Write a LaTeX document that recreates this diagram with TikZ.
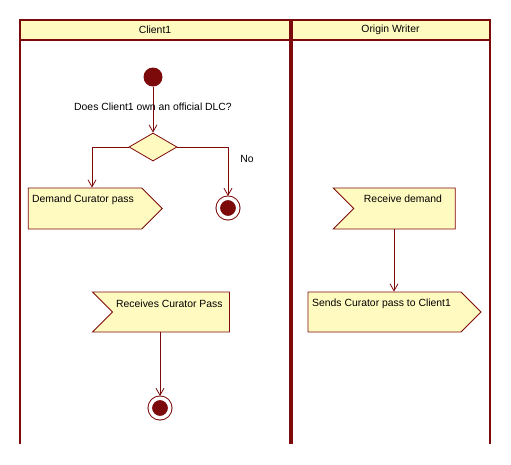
\documentclass[tikz,border=0pt]{standalone}
\usepackage{fontspec}
\setmainfont{Liberation Sans}
\usetikzlibrary{shapes.geometric, shapes.symbols, arrows.meta}
\definecolor{umlred}{HTML}{7D0A0A}
\definecolor{umlfill}{HTML}{FFFAC0}

\begin{document}
\begin{tikzpicture}[
            x=1pt, y=-1pt,
            lane/.style={draw=umlred, line width=2pt},
            flow/.style={draw=umlred, line width=.8pt, -{Straight Barb[length=7pt, width=8pt]}},
            start/.style={circle, fill=umlred, minimum size=19pt, inner sep=0pt},
            final/.style={circle, draw=umlred, fill=umlred, line width=1pt, double=white,
                double distance=3.5pt, minimum size=19.5pt, inner sep=0pt, outer sep=2.25pt},
            choice/.style={diamond, draw=umlred, fill=umlfill, line width=.8pt,
                minimum width=48pt, minimum height=28pt, inner sep=0pt},
            sendbox/.style={signal, signal to=east, signal pointer angle=90, draw=umlred,
                fill=umlfill, line width=.8pt, inner sep=0pt},
            recvbox/.style={signal, signal to=nowhere, signal from=west, signal pointer angle=90,
                draw=umlred, fill=umlfill, line width=.8pt, inner sep=0pt},
            txt/.style={inner sep=0pt},
            font={\fontsize{10.4pt}{12pt}\selectfont}
        ]
        \useasboundingbox (0,0) rectangle (511,464);
        % Swimlanes
        \fill[umlfill] (20,20) rectangle (490,40);
        \draw[lane] (20,444) -- (20,20) -- (490,20) -- (490,444);
        \draw[lane] (20,40) -- (490,40);
        \draw[draw=umlred, line width=4pt] (290.5,20) -- (290.5,444);
        \node[txt] (lane1) at (155,30) {Client1};
        \node[txt] (lane2) at (390.5,30) {Origin Writer};

        % Client1 lane
        \node[start] (init) at (153,77) {};
        \node[choice] (dlc) at (153,147) {};
        \node[sendbox, minimum width=134pt, minimum height=41pt] (demand) at (85,208.5) {};
        \node[final] (stop1) at (228,208) {};
        \node[recvbox, minimum width=137pt, minimum height=40pt] (receives) at (171,312) {};
        \node[final] (stop2) at (160,408) {};

        % Origin Writer lane
        \node[recvbox, minimum width=122pt, minimum height=41pt] (recv) at (404.5,208.5) {};
        \node[sendbox, minimum width=173pt, minimum height=40pt] (sends) at (384.5,312) {};

        % Texts in the boxes
        \node[txt, anchor=west] (demandtxt) at ([xshift=4pt, yshift=-12.5pt]demand.north west) {Demand Curator pass};
        \node[txt] (recvtxt) at ([xshift=-1.5pt, yshift=9.5pt]recv.center) {Receive demand};
        \node[txt, anchor=west] (receivestxt) at ([xshift=-55pt, yshift=8.5pt]receives.center) {Receives Curator Pass};
        \node[txt, anchor=west] (sendstxt) at ([xshift=-72.5pt, yshift=8pt]sends.center) {Sends Curator pass to Client1};

        % Flows
        \draw[flow] (init) -- node[txt, pos=.43] (question) {Does Client1 own an official DLC?} (dlc);
        \draw[flow] (dlc.west) -| ([xshift=7pt]demand.north);
        \draw[flow] (dlc.east) -| node[txt, pos=.62, right=12pt] (no) {No} (stop1);
        \draw[flow] ([xshift=-10.5pt]recv.south) -- ([xshift=-10.5pt]recv.south |- sends.north);
        \draw[flow] (receives.south -| stop2) -- (stop2);
    \end{tikzpicture}
\end{document}
